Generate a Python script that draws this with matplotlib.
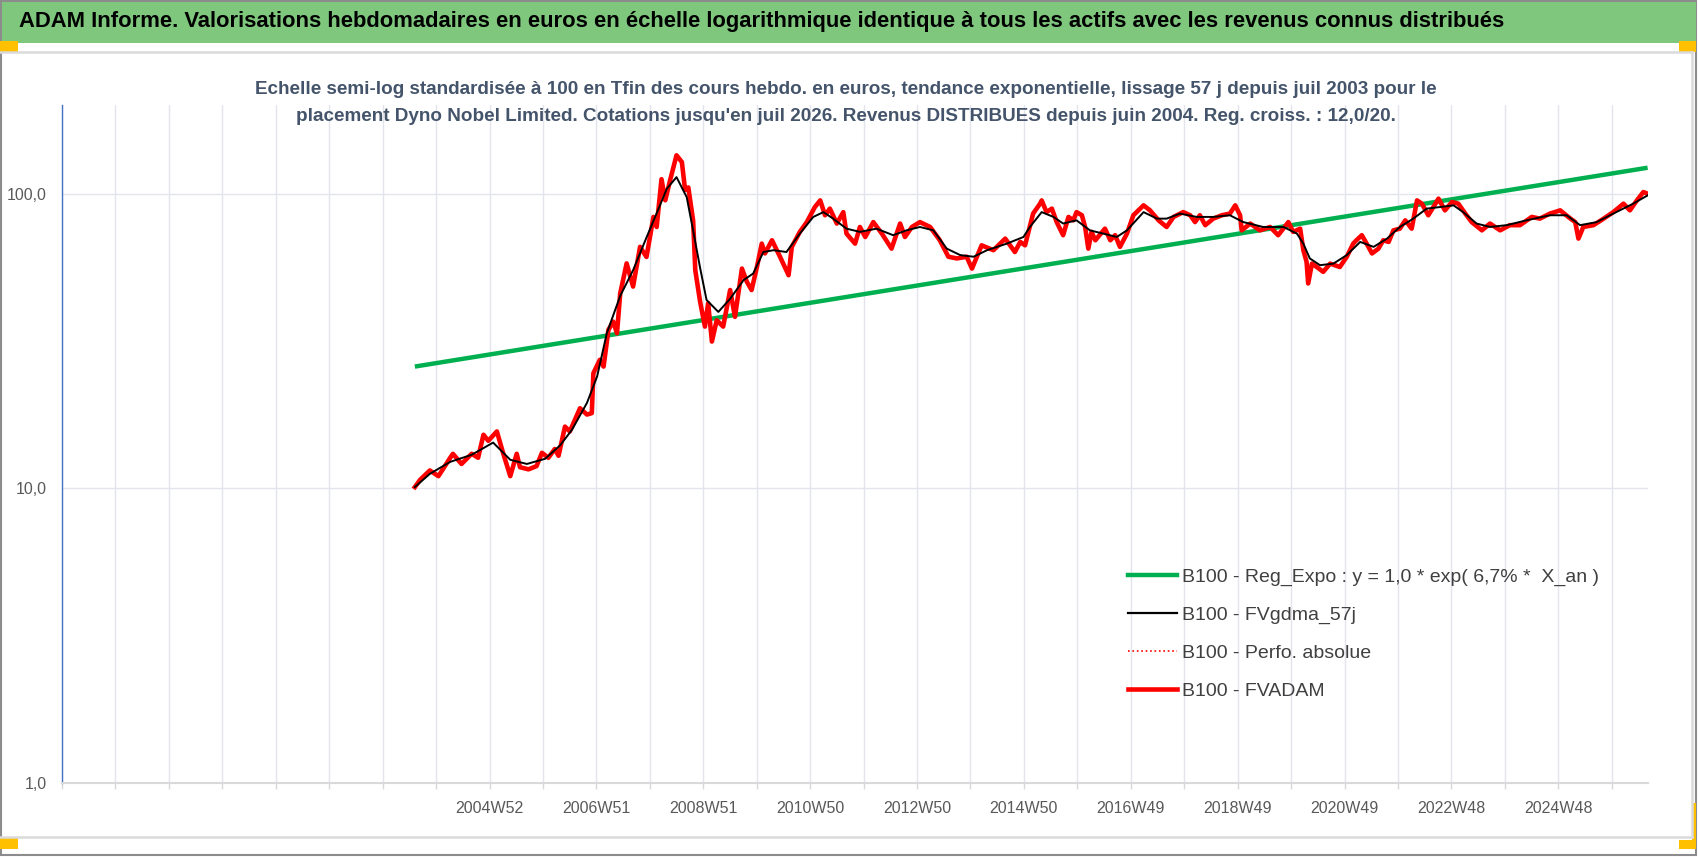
import matplotlib
matplotlib.use("Agg")
import matplotlib.pyplot as plt
from matplotlib.lines import Line2D
from matplotlib.patches import Rectangle

plt.rcParams['font.family'] = ['Liberation Sans Narrow', 'Liberation Sans', 'DejaVu Sans']

# --- data (decimal years, values base 100) ---
fvadam_years = [2003.58, 2003.68, 2003.86, 2004.02, 2004.24, 2004.29, 2004.45, 2004.64, 2004.76, 2004.86,
                2004.95, 2005.11, 2005.23, 2005.36, 2005.48, 2005.54, 2005.70, 2005.85, 2005.95, 2006.07,
                2006.19, 2006.26, 2006.38, 2006.47, 2006.66, 2006.79, 2006.88, 2006.91, 2007.03, 2007.10,
                2007.19, 2007.28, 2007.35, 2007.41, 2007.53, 2007.65, 2007.78, 2007.90, 2008.03, 2008.09,
                2008.18, 2008.25, 2008.34, 2008.46, 2008.56, 2008.62, 2008.68, 2008.77, 2008.81, 2008.90,
                2008.99, 2009.05, 2009.12, 2009.21, 2009.33, 2009.46, 2009.55, 2009.68, 2009.77, 2009.86,
                2009.96, 2010.05, 2010.11, 2010.24, 2010.39, 2010.55, 2010.61, 2010.76, 2010.89, 2011.04,
                2011.14, 2011.23, 2011.32, 2011.45, 2011.57, 2011.63, 2011.79, 2011.88, 2011.98, 2012.13,
                2012.29, 2012.47, 2012.63, 2012.72, 2012.85, 2013.00, 2013.19, 2013.37, 2013.53, 2013.69,
                2013.87, 2013.97, 2014.15, 2014.37, 2014.59, 2014.77, 2014.87, 2014.96, 2015.11, 2015.24,
                2015.27, 2015.36, 2015.46, 2015.55, 2015.67, 2015.77, 2015.86, 2015.92, 2016.02, 2016.08,
                2016.14, 2016.20, 2016.27, 2016.45, 2016.55, 2016.64, 2016.73, 2016.86, 2016.98, 2017.17,
                2017.29, 2017.45, 2017.60, 2017.73, 2017.91, 2018.04, 2018.13, 2018.22, 2018.32, 2018.47,
                2018.63, 2018.78, 2018.88, 2018.97, 2019.00, 2019.16, 2019.34, 2019.53, 2019.68, 2019.87,
                2019.96, 2020.09, 2020.15, 2020.21, 2020.24, 2020.31, 2020.40, 2020.52, 2020.65, 2020.83,
                2020.96, 2021.08, 2021.14, 2021.24, 2021.33, 2021.43, 2021.55, 2021.64, 2021.74, 2021.83,
                2021.95, 2022.05, 2022.17, 2022.27, 2022.36, 2022.48, 2022.67, 2022.79, 2022.92, 2023.04,
                2023.17, 2023.29, 2023.48, 2023.63, 2023.82, 2024.00, 2024.19, 2024.41, 2024.56, 2024.75,
                2024.94, 2025.09, 2025.22, 2025.28, 2025.37, 2025.56, 2025.75, 2025.93, 2026.12, 2026.24,
                2026.37, 2026.49, 2026.57]
fvadam = [10.1, 10.7, 11.5, 11.0, 12.7, 13.1, 12.1, 13.1, 12.7, 15.2,
          14.5, 15.6, 13.1, 11.0, 13.1, 11.8, 11.6, 11.9, 13.2, 12.7,
          13.6, 12.9, 16.2, 15.6, 18.7, 17.8, 18.0, 24.6, 27.3, 25.9,
          34.5, 36.8, 33.6, 45.9, 58.0, 48.4, 66.0, 61.0, 83.4, 77.1,
          112, 95, 111, 135, 128, 103, 105, 81, 55, 43,
          35.4, 42.5, 31.5, 37.2, 35.4, 47.1, 38.2, 55.7, 50.3, 47.1,
          56.4, 67.7, 62.7, 69.5, 61.1, 52.9, 66.0, 74.2, 80.1, 90.1,
          94.9, 84.5, 89.0, 79.2, 86.6, 73.2, 67.7, 77.1, 71.3, 80.1,
          73.2, 65.1, 79.2, 71.3, 77.1, 80.1, 77.1, 69.5, 61.1, 60.3,
          61.1, 55.7, 66.8, 64.3, 70.4, 63.4, 68.6, 66.8, 85.6, 92.5,
          94.9, 86.6, 89.0, 80.1, 72.3, 83.4, 81.2, 86.6, 84.5, 77.1,
          65.1, 74.2, 69.5, 76.1, 69.5, 72.3, 66.0, 73.2, 84.5, 91.3,
          87.8, 81.2, 77.1, 83.4, 86.6, 84.5, 80.1, 84.5, 78.2, 82.3,
          84.5, 85.6, 91.3, 84.5, 75.1, 79.2, 75.1, 77.1, 72.3, 80.1,
          74.2, 76.1, 64.3, 58.7, 49.6, 57.9, 56.4, 54.3, 57.9, 56.4,
          61.1, 67.7, 69.5, 72.3, 67.7, 62.7, 65.1, 69.5, 68.6, 75.1,
          76.1, 81.2, 76.1, 94.9, 92.5, 84.5, 96.2, 87.8, 93.7, 92.5,
          85.6, 80.1, 75.1, 79.2, 75.1, 78.2, 78.2, 83.4, 82.3, 85.6,
          87.8, 83.4, 80.1, 70.4, 77.1, 78.2, 82.3, 86.6, 92.5, 87.8,
          94.9, 101.3, 100.0]

gdma_years = [2003.58, 2003.86, 2004.24, 2004.64, 2005.04, 2005.36, 2005.67, 2006.01, 2006.29, 2006.51,
              2006.79, 2006.98, 2007.16, 2007.41, 2007.65, 2007.90, 2008.08, 2008.28, 2008.46, 2008.65,
              2008.77, 2008.90, 2009.02, 2009.24, 2009.46, 2009.71, 2009.89, 2010.08, 2010.27, 2010.51,
              2010.76, 2011.01, 2011.20, 2011.38, 2011.63, 2011.88, 2012.19, 2012.50, 2012.75, 2013.00,
              2013.25, 2013.50, 2013.75, 2014.00, 2014.25, 2014.62, 2014.93, 2015.05, 2015.27, 2015.49,
              2015.67, 2015.92, 2016.17, 2016.42, 2016.67, 2016.86, 2017.17, 2017.42, 2017.60, 2017.85,
              2018.16, 2018.47, 2018.78, 2019.03, 2019.40, 2019.78, 2020.03, 2020.15, 2020.27, 2020.46,
              2020.71, 2020.96, 2021.21, 2021.46, 2021.71, 2021.95, 2022.20, 2022.45, 2022.70, 2022.95,
              2023.13, 2023.38, 2023.63, 2023.94, 2024.31, 2024.75, 2025.06, 2025.31, 2025.62, 2025.93,
              2026.30, 2026.57]
gdma = [10.1, 11.2, 12.3, 13.0, 14.3, 12.5, 12.1, 12.6, 14.0, 15.8,
        19.5, 24.0, 33.6, 45.0, 55.0, 71.0, 85.0, 104, 113.8, 97.4,
        75.0, 56.0, 43.6, 39.7, 44.0, 50.9, 53.6, 63.4, 64.3, 63.4,
        73.2, 83.4, 86.6, 82.3, 76.1, 74.2, 76.1, 72.3, 75.1, 77.1,
        75.1, 65.1, 61.9, 61.1, 64.3, 67.7, 71.3, 77.1, 86.6, 83.4,
        79.2, 81.2, 75.1, 73.2, 71.3, 75.1, 86.6, 82.3, 82.3, 85.6,
        83.4, 83.4, 84.5, 80.1, 77.1, 77.1, 73.2, 67.7, 60.3, 57.2,
        57.9, 61.9, 68.6, 66.0, 70.4, 77.1, 82.3, 89.0, 90.1, 91.3,
        86.6, 79.2, 77.1, 78.2, 81.2, 84.5, 84.5, 78.2, 80.1, 85.6,
        92.5, 98.7]

reg_years = [2003.58, 2026.57]
reg_expo = [25.9, 122.5]

tick_labels = ["2004W52", "2006W51", "2008W51", "2010W50", "2012W50", "2014W50",
               "2016W49", "2018W49", "2020W49", "2022W48", "2024W48"]

legend_labels = ["B100 - Reg_Expo : y = 1,0 * exp( 6,7% *  X_an )",
                 "B100 - FVgdma_57j",
                 "B100 - Perfo. absolue",
                 "B100 - FVADAM"]

titre = ("ADAM Informe. Valorisations hebdomadaires en euros en échelle logarithmique identique "
         "à tous les actifs avec les revenus connus distribués")
sous_titre = ("Echelle semi-log standardisée à 100 en Tfin des cours hebdo. en euros, tendance exponentielle, "
              "lissage 57 j depuis juil 2003 pour le\nplacement Dyno Nobel Limited. Cotations jusqu'en juil 2026. "
              "Revenus DISTRIBUES depuis juin 2004. Reg. croiss. : 12,0/20.")

W, H = 1698, 857
fig = plt.figure(figsize=(W / 100, H / 100), dpi=100)


def px_rect(x0, y0, x1, y1, **kw):
    # rectangle given in pixel coords (origin top-left)
    r = Rectangle((x0 / W, 1 - y1 / H), (x1 - x0) / W, (y1 - y0) / H,
                  transform=fig.transFigure, **kw)
    fig.patches.append(r)


# frame, banner, handles
px_rect(1, 1, W - 2, H - 2, fill=False, edgecolor='#8C8C8C', linewidth=1.5)
px_rect(2, 2, 1696, 43, facecolor='#7EC77D', edgecolor='none')
fig.lines.append(Line2D([0, 1692 / W], [1 - 52 / H] * 2, transform=fig.transFigure, color='#DADADA', lw=1.8))
fig.lines.append(Line2D([0, 1692 / W], [1 - 837 / H] * 2, transform=fig.transFigure, color='#DADADA', lw=1.8))
fig.lines.append(Line2D([1692 / W] * 2, [1 - 52 / H, 1 - 837 / H], transform=fig.transFigure, color='#DADADA', lw=1.8))
for x0, y0, x1, y1 in [(0, 41, 18, 52), (1679, 41, 1696, 52), (0, 838, 18, 849),
                       (1692, 803, 1696, 849), (1679, 840, 1696, 849)]:
    px_rect(x0, y0, x1, y1, facecolor='#FFC000', edgecolor='none')

fig.text(19 / W, 1 - 22 / H, titre, ha='left', va='center', fontsize=15.8, fontweight='bold', color='black')

ax = fig.add_axes([62 / W, 1 - 783 / H, (1648 - 62) / W, (783 - 105) / H])
ax.set_yscale('log')

# category axis: one gridline every 52 weeks, labels every 104 weeks
start = 1997.0
wpy = 52.1775
grid_x = [start + 52 * k / wpy for k in range(30)]
ax.set_xlim(start, start + (1648 - 62) / 53.44 * 52 / wpy)
ax.set_ylim(1, 200)

ax.set_xticks(grid_x)
lab = [''] * len(grid_x)
for i, t in enumerate(tick_labels):
    lab[8 + 2 * i] = t
ax.set_xticklabels(lab)
ax.set_yticks([1, 10, 100])
ax.set_yticklabels(["1,0", "10,0", "100,0"])
ax.yaxis.set_minor_locator(matplotlib.ticker.NullLocator())

ax.grid(True, which='major', color='#E2E5EB', linewidth=1.0, zorder=0)
ax.set_axisbelow(True)
for s in ['top', 'right']:
    ax.spines[s].set_visible(False)
ax.spines['bottom'].set_color('#D9D9D9')
ax.spines['bottom'].set_linewidth(1.5)
ax.spines['left'].set_color('#4472C4')
ax.spines['left'].set_linewidth(1.0)
ax.tick_params(axis='x', length=4, color='#D9D9D9', width=1.0, pad=9, labelsize=11.5, labelcolor='#595959')
ax.tick_params(axis='y', length=0, pad=11, labelsize=11.5, labelcolor='#595959')

ax.plot(reg_years, reg_expo, color='#00B050', lw=3.2, zorder=2, solid_capstyle='butt')
ax.plot(fvadam_years, fvadam, color='#FF0000', lw=1.0, ls=':', zorder=2.5)
ax.plot(fvadam_years, fvadam, color='#FF0000', lw=3.3, zorder=3)
ax.plot(gdma_years, gdma, color='black', lw=1.4, zorder=4)

ax.text(846 / W, 1 - 103 / H, sous_titre, transform=fig.transFigure, ha='center', va='center',
        fontsize=13.6, fontweight='bold', color='#44546A', linespacing=1.8)

handles = [Line2D([], [], color='#00B050', lw=3.2),
           Line2D([], [], color='black', lw=1.6),
           Line2D([], [], color='#FF0000', lw=1.2, ls=':'),
           Line2D([], [], color='#FF0000', lw=3.3)]
leg = fig.legend(handles, legend_labels, loc='upper left', bbox_to_anchor=(1128 / W, 1 - 568 / H),
                 frameon=False, fontsize=14.0, handlelength=2.5, handletextpad=0.3, labelspacing=1.05,
                 borderpad=0, borderaxespad=0)
for t in leg.get_texts():
    t.set_color('#404040')

fig.savefig('out.png', dpi=100)
